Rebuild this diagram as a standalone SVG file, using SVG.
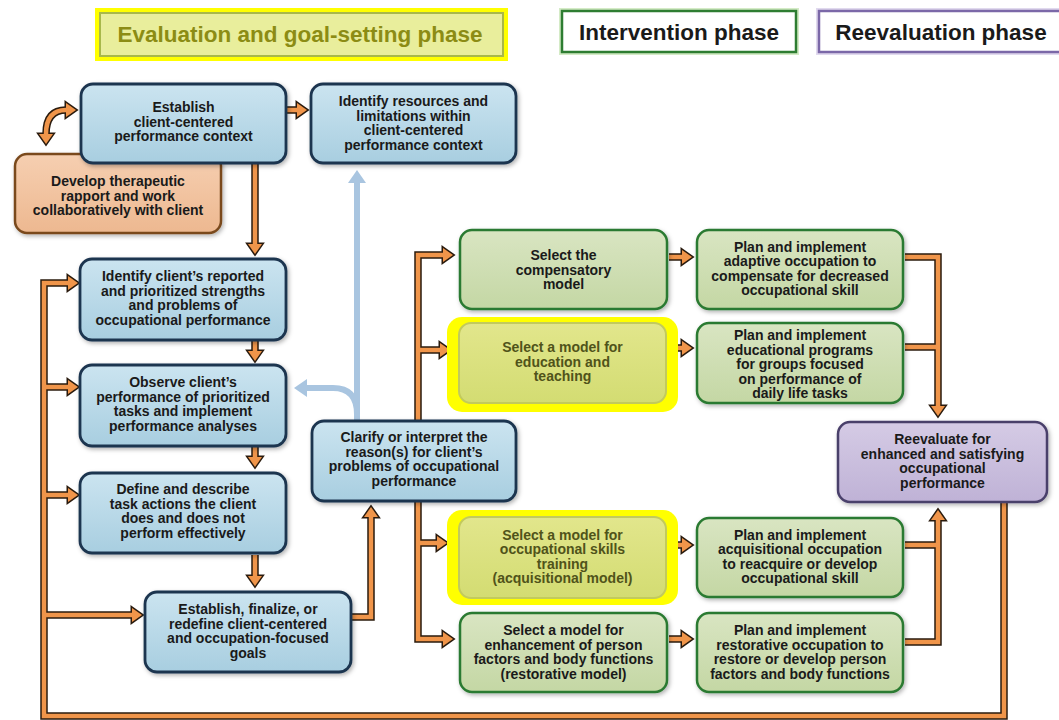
<svg xmlns="http://www.w3.org/2000/svg" xmlns:xlink="http://www.w3.org/1999/xlink" width="1059" height="720" viewBox="0 0 1059 720">
<defs>
<linearGradient id="gB" x1="0" y1="0" x2="0" y2="1"><stop offset="0" stop-color="#cbe4f0"/><stop offset="1" stop-color="#a8cee0"/></linearGradient>
<linearGradient id="gG" x1="0" y1="0" x2="0" y2="1"><stop offset="0" stop-color="#d9e5c2"/><stop offset="1" stop-color="#c4d7a4"/></linearGradient>
<linearGradient id="gY" x1="0" y1="0" x2="0" y2="1"><stop offset="0" stop-color="#e2e68c"/><stop offset="1" stop-color="#d3dc72"/></linearGradient>
<linearGradient id="gP" x1="0" y1="0" x2="0" y2="1"><stop offset="0" stop-color="#d5cbe5"/><stop offset="1" stop-color="#bfb2d6"/></linearGradient>
<linearGradient id="gO" x1="0" y1="0" x2="0" y2="1"><stop offset="0" stop-color="#f6cfb1"/><stop offset="1" stop-color="#edb890"/></linearGradient>
<filter id="sh" x="-10%" y="-10%" width="120%" height="130%"><feDropShadow dx="1.5" dy="2" stdDeviation="2" flood-color="#000" flood-opacity="0.3"/></filter>
<path id="ah" d="M0,-7 L10,0 L0,7 Z"/>
<path id="bh" d="M0,-9 L13,0 L0,9 Z"/>
<path id="o1" d="M255,164 V244"/>
<path id="o2" d="M255,341 V351"/>
<path id="o3" d="M255,447 V457"/>
<path id="o4" d="M255,555 V576"/>
<path id="o5" d="M46,134 Q46,110 66,110"/>
<path id="o6" d="M287,110 H297"/>
<path id="o7" d="M1004,503 V716 H44 V283 H68"/>
<path id="o8" d="M44,387 H68"/>
<path id="o9" d="M44,495 H68"/>
<path id="o10" d="M44,615 H132"/>
<path id="o11" d="M351,617 H371 V517"/>
<path id="o12" d="M443,255 H418 V639 H443"/>
<path id="o13" d="M418,350 H440"/>
<path id="o14" d="M418,543 H437"/>
<path id="o15" d="M669,257 H682"/>
<path id="o16" d="M677,348 H682"/>
<path id="o17" d="M677,545 H682"/>
<path id="o18" d="M669,639 H682"/>
<path id="o19" d="M905,257 H938 V406"/>
<path id="o20" d="M905,347 H938"/>
<path id="o21" d="M905,642 H938 V520"/>
<path id="o22" d="M905,545 H938"/>
</defs>
<style>
.od{fill:none;stroke:#2a1b0e;stroke-width:7.5;stroke-linejoin:miter}
.ol{fill:none;stroke:#f0954a;stroke-width:4.5;stroke-linejoin:miter}
.hd{fill:#2a1b0e;stroke:#2a1b0e;stroke-width:3;stroke-linejoin:miter}
.hl{fill:#f0954a;stroke:none}
.bl{fill:none;stroke:#a9c5e0;stroke-width:6}
.bhd{fill:#a9c5e0}
.nb{fill:url(#gB);stroke:#1d3550;stroke-width:2.8;filter:url(#sh)}
.ng{fill:url(#gG);stroke:#2b7a30;stroke-width:2.5;filter:url(#sh)}
.ny{fill:url(#gY);stroke:#c2ca5c;stroke-width:2}
.yo{fill:#ffff00}
.np{fill:url(#gP);stroke:#4a3f6b;stroke-width:2.5;filter:url(#sh)}
.no{fill:url(#gO);stroke:#7a4a1e;stroke-width:2.5;filter:url(#sh)}
text{font-family:"Liberation Sans",Arial,sans-serif;font-size:14px;font-weight:bold;text-anchor:middle;fill:#1a1a1a}
.ty{fill:#50531a}
.hdr{font-size:22.5px}
</style>
<rect width="1059" height="720" fill="#ffffff"/>

<g id="header-evaluation">
<rect x="95" y="8" width="413" height="53" class="yo"/>
<rect x="100" y="13" width="403" height="43" fill="#e9ee9c" stroke="#a8b84a" stroke-width="2"/>
<text x="300" y="42" class="hdr" style="fill:#8c8c14">Evaluation and goal-setting phase</text>
</g>
<g id="header-intervention">
<rect x="562" y="11" width="234" height="41" fill="#ffffff" stroke="#d4ebc6" stroke-width="6"/>
<rect x="562" y="11" width="234" height="41" fill="#ffffff" stroke="#2e7d32" stroke-width="2.5"/>
<text x="679" y="40" class="hdr">Intervention phase</text>
</g>
<g id="header-reevaluation">
<rect x="819" y="11" width="246" height="41" fill="#ffffff" stroke="#e0d9ee" stroke-width="6"/>
<rect x="819" y="11" width="246" height="41" fill="#ffffff" stroke="#7b68a8" stroke-width="2.5"/>
<text x="941" y="40" class="hdr">Reevaluation phase</text>
</g>

<g id="connectors">
<g id="blue-arrows">
<path class="bl" d="M357,421 V182"/>
<path class="bl" d="M357,414 Q357,388 333,388 H306"/>
<use xlink:href="#bh" href="#bh" class="bhd" transform="translate(357,183) rotate(-90)"/>
<use xlink:href="#bh" href="#bh" class="bhd" transform="translate(307,388) rotate(180)"/>
</g>
<g id="orange-dark">
<use href="#o1" class="od"/><use href="#o2" class="od"/><use href="#o3" class="od"/><use href="#o4" class="od"/>
<use href="#o5" class="od"/><use href="#o6" class="od"/><use href="#o7" class="od"/><use href="#o8" class="od"/>
<use href="#o9" class="od"/><use href="#o10" class="od"/><use href="#o11" class="od"/><use href="#o12" class="od"/>
<use href="#o13" class="od"/><use href="#o14" class="od"/><use href="#o15" class="od"/><use href="#o16" class="od"/>
<use href="#o17" class="od"/><use href="#o18" class="od"/><use href="#o19" class="od"/><use href="#o20" class="od"/>
<use href="#o21" class="od"/><use href="#o22" class="od"/>
<use href="#ah" class="hd" transform="translate(255,244) rotate(90)"/>
<use href="#ah" class="hd" transform="translate(255,351) rotate(90)"/>
<use href="#ah" class="hd" transform="translate(255,457) rotate(90)"/>
<use href="#ah" class="hd" transform="translate(255,576) rotate(90)"/>
<use href="#ah" class="hd" transform="translate(66,110)"/>
<use href="#ah" class="hd" transform="translate(46,134) rotate(90)"/>
<use href="#ah" class="hd" transform="translate(297,110)"/>
<use href="#ah" class="hd" transform="translate(68,283)"/>
<use href="#ah" class="hd" transform="translate(68,387)"/>
<use href="#ah" class="hd" transform="translate(68,495)"/>
<use href="#ah" class="hd" transform="translate(132,615)"/>
<use href="#ah" class="hd" transform="translate(371,517) rotate(-90)"/>
<use href="#ah" class="hd" transform="translate(443,255)"/>
<use href="#ah" class="hd" transform="translate(443,639)"/>
<use href="#ah" class="hd" transform="translate(440,350)"/>
<use href="#ah" class="hd" transform="translate(437,543)"/>
<use href="#ah" class="hd" transform="translate(682,257)"/>
<use href="#ah" class="hd" transform="translate(682,348)"/>
<use href="#ah" class="hd" transform="translate(682,545)"/>
<use href="#ah" class="hd" transform="translate(682,639)"/>
<use href="#ah" class="hd" transform="translate(938,406) rotate(90)"/>
<use href="#ah" class="hd" transform="translate(938,520) rotate(-90)"/>
</g>
<g id="orange-light">
<use href="#o1" class="ol"/><use href="#o2" class="ol"/><use href="#o3" class="ol"/><use href="#o4" class="ol"/>
<use href="#o5" class="ol"/><use href="#o6" class="ol"/><use href="#o7" class="ol"/><use href="#o8" class="ol"/>
<use href="#o9" class="ol"/><use href="#o10" class="ol"/><use href="#o11" class="ol"/><use href="#o12" class="ol"/>
<use href="#o13" class="ol"/><use href="#o14" class="ol"/><use href="#o15" class="ol"/><use href="#o16" class="ol"/>
<use href="#o17" class="ol"/><use href="#o18" class="ol"/><use href="#o19" class="ol"/><use href="#o20" class="ol"/>
<use href="#o21" class="ol"/><use href="#o22" class="ol"/>
<use href="#ah" class="hl" transform="translate(255,244) rotate(90)"/>
<use href="#ah" class="hl" transform="translate(255,351) rotate(90)"/>
<use href="#ah" class="hl" transform="translate(255,457) rotate(90)"/>
<use href="#ah" class="hl" transform="translate(255,576) rotate(90)"/>
<use href="#ah" class="hl" transform="translate(66,110)"/>
<use href="#ah" class="hl" transform="translate(46,134) rotate(90)"/>
<use href="#ah" class="hl" transform="translate(297,110)"/>
<use href="#ah" class="hl" transform="translate(68,283)"/>
<use href="#ah" class="hl" transform="translate(68,387)"/>
<use href="#ah" class="hl" transform="translate(68,495)"/>
<use href="#ah" class="hl" transform="translate(132,615)"/>
<use href="#ah" class="hl" transform="translate(371,517) rotate(-90)"/>
<use href="#ah" class="hl" transform="translate(443,255)"/>
<use href="#ah" class="hl" transform="translate(443,639)"/>
<use href="#ah" class="hl" transform="translate(440,350)"/>
<use href="#ah" class="hl" transform="translate(437,543)"/>
<use href="#ah" class="hl" transform="translate(682,257)"/>
<use href="#ah" class="hl" transform="translate(682,348)"/>
<use href="#ah" class="hl" transform="translate(682,545)"/>
<use href="#ah" class="hl" transform="translate(682,639)"/>
<use href="#ah" class="hl" transform="translate(938,406) rotate(90)"/>
<use href="#ah" class="hl" transform="translate(938,520) rotate(-90)"/>
</g>
</g>

<g id="develop-rapport">
<rect x="15" y="154" width="206" height="79" rx="12" class="no"/>
<text x="118" y="186">Develop therapeutic</text>
<text x="118" y="200.5">rapport and work</text>
<text x="118" y="215">collaboratively with client</text>
</g>
<g id="establish-context">
<rect x="81" y="84" width="205" height="79" rx="12" class="nb"/>
<text x="183.5" y="112">Establish</text>
<text x="183.5" y="126.5">client-centered</text>
<text x="183.5" y="141">performance context</text>
</g>
<g id="identify-resources">
<rect x="311" y="84" width="205" height="79" rx="12" class="nb"/>
<text x="413.5" y="106">Identify resources and</text>
<text x="413.5" y="120.5">limitations within</text>
<text x="413.5" y="135">client-centered</text>
<text x="413.5" y="149.5">performance context</text>
</g>
<g id="identify-strengths">
<rect x="80" y="259" width="206" height="81" rx="12" class="nb"/>
<text x="183" y="281">Identify client’s reported</text>
<text x="183" y="295.5">and prioritized strengths</text>
<text x="183" y="310">and problems of</text>
<text x="183" y="324.5">occupational performance</text>
</g>
<g id="observe-performance">
<rect x="80" y="365" width="206" height="81" rx="12" class="nb"/>
<text x="183" y="387">Observe client’s</text>
<text x="183" y="401.5">performance of prioritized</text>
<text x="183" y="416">tasks and implement</text>
<text x="183" y="430.5">performance analyses</text>
</g>
<g id="define-task-actions">
<rect x="80" y="473" width="206" height="80" rx="12" class="nb"/>
<text x="183" y="494">Define and describe</text>
<text x="183" y="508.5">task actions the client</text>
<text x="183" y="523">does and does not</text>
<text x="183" y="537.5">perform effectively</text>
</g>
<g id="establish-goals">
<rect x="145" y="592" width="206" height="80" rx="12" class="nb"/>
<text x="248" y="614">Establish, finalize, or</text>
<text x="248" y="628.5">redefine client-centered</text>
<text x="248" y="643">and occupation-focused</text>
<text x="248" y="657.5">goals</text>
</g>
<g id="clarify-reasons">
<rect x="312" y="421" width="204" height="80" rx="12" class="nb"/>
<text x="414" y="442">Clarify or interpret the</text>
<text x="414" y="456.5">reason(s) for client’s</text>
<text x="414" y="471">problems of occupational</text>
<text x="414" y="485.5">performance</text>
</g>

<g id="select-compensatory">
<rect x="460" y="230" width="207" height="79" rx="12" class="ng"/>
<text x="563.5" y="260">Select the</text>
<text x="563.5" y="274.5">compensatory</text>
<text x="563.5" y="289">model</text>
</g>
<g id="plan-adaptive">
<rect x="697" y="230" width="206" height="79" rx="12" class="ng"/>
<text x="800" y="251.5">Plan and implement</text>
<text x="800" y="266">adaptive occupation to</text>
<text x="800" y="280.5">compensate for decreased</text>
<text x="800" y="295">occupational skill</text>
</g>
<g id="select-education">
<rect x="447" y="317" width="231" height="95" rx="15" class="yo"/>
<rect x="459" y="323" width="207" height="80" rx="12" class="ny"/>
<text x="562.5" y="352" class="ty">Select a model for</text>
<text x="562.5" y="366.5" class="ty">education and</text>
<text x="562.5" y="381" class="ty">teaching</text>
</g>
<g id="plan-educational">
<rect x="697" y="323" width="206" height="80" rx="12" class="ng"/>
<text x="800" y="340">Plan and implement</text>
<text x="800" y="354.5">educational programs</text>
<text x="800" y="369">for groups focused</text>
<text x="800" y="383.5">on performance of</text>
<text x="800" y="398">daily life tasks</text>
</g>
<g id="reevaluate">
<rect x="838" y="422" width="209" height="80" rx="12" class="np"/>
<text x="942.5" y="444">Reevaluate for</text>
<text x="942.5" y="458.5">enhanced and satisfying</text>
<text x="942.5" y="473">occupational</text>
<text x="942.5" y="487.5">performance</text>
</g>
<g id="select-acquisitional">
<rect x="447" y="510" width="231" height="95" rx="15" class="yo"/>
<rect x="459" y="517" width="207" height="81" rx="12" class="ny"/>
<text x="562.5" y="539.5" class="ty">Select a model for</text>
<text x="562.5" y="554" class="ty">occupational skills</text>
<text x="562.5" y="568.5" class="ty">training</text>
<text x="562.5" y="583" class="ty">(acquisitional model)</text>
</g>
<g id="plan-acquisitional">
<rect x="697" y="518" width="206" height="79" rx="12" class="ng"/>
<text x="800" y="539.5">Plan and implement</text>
<text x="800" y="554">acquisitional occupation</text>
<text x="800" y="568.5">to reacquire or develop</text>
<text x="800" y="583">occupational skill</text>
</g>
<g id="select-restorative">
<rect x="460" y="613" width="207" height="79" rx="12" class="ng"/>
<text x="563.5" y="635">Select a model for</text>
<text x="563.5" y="649.5">enhancement of person</text>
<text x="563.5" y="664">factors and body functions</text>
<text x="563.5" y="678.5">(restorative model)</text>
</g>
<g id="plan-restorative">
<rect x="697" y="613" width="206" height="79" rx="12" class="ng"/>
<text x="800" y="635">Plan and implement</text>
<text x="800" y="649.5">restorative occupation to</text>
<text x="800" y="664">restore or develop person</text>
<text x="800" y="678.5">factors and body functions</text>
</g>
</svg>
